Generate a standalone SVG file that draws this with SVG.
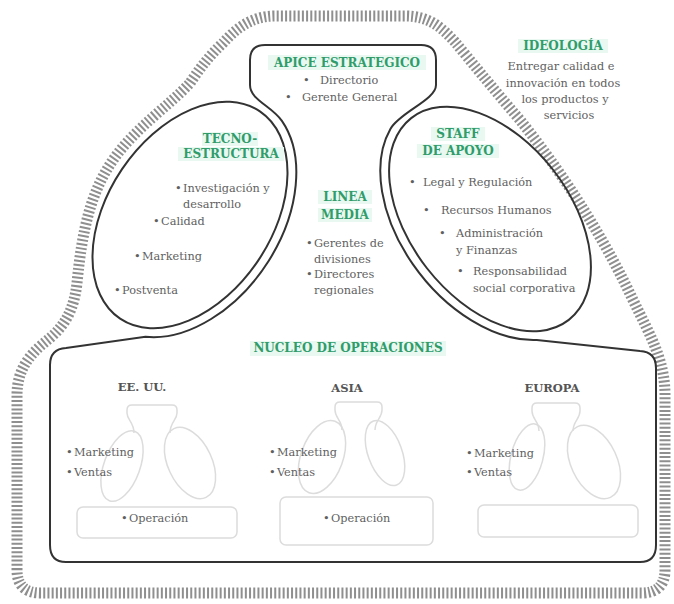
<svg xmlns="http://www.w3.org/2000/svg" width="674" height="604" viewBox="0 0 674 604">
  <style>
    .band { fill: none; stroke: #8f8f8f; stroke-width: 11; stroke-dasharray: 2 2.2; }
    .outline { fill: none; stroke: #333; stroke-width: 2; }
    .mini { fill: none; stroke: #dcdcdc; stroke-width: 1.5; }
    .hl { fill: #e9f8f1; }
    .head { font-family: 'DejaVu Serif', 'Liberation Serif', serif; font-weight: bold; font-size: 12px; fill: #2f9c6a; text-anchor: middle; }
    .region { font-family: 'DejaVu Serif', 'Liberation Serif', serif; font-weight: bold; font-size: 11.5px; fill: #555; text-anchor: middle; }
    .body { font-family: 'DejaVu Serif', 'Liberation Serif', serif; font-size: 11.3px; fill: #5f5f5f; }
    .mid { text-anchor: middle; }
  </style>

  <!-- ideology: hatched band enclosing the whole organisation -->
  <path id="ideologia-band" class="band" d="M 17,570 L 17,395 C 17,365 35,350 50,338 C 65,325 74,310 77,283 C 82,232 90,193 113,160 C 135,128 170,105 190,83 C 200,68 210,55 223,43 C 235,30 250,16 275,16 L 405,16 C 430,16 442,28 455,42 C 470,60 490,85 520,120 C 560,170 600,230 633,300 C 650,335 665,360 665,395 L 665,570 C 665,585 657,593 642,593 L 40,593 C 25,593 17,585 17,570 Z"/>

  <!-- organisation outline: apex, middle line, operating core -->
  <g id="connectors">
    <path class="outline" d="M 50,365 Q 50,349 66,348 L 145.4,336.8 A 134 91 -56 0 0 281.9,120.9 C 272,106 250,100 250,85 L 250,60 Q 250,45 265,45 L 421,45 Q 436,45 436,60 L 436,85 C 436,100 400,112 390.4,128.9 A 137 89 52 0 0 536.8,340 L 640,351 Q 656,352 656,368 L 656,545 Q 656,562 640,562 L 66,562 Q 50,562 50,545 Z"/>
  </g>

  <g id="ideologia">
    <rect class="hl" x="518" y="39" width="90" height="14"/>
    <text class="head" x="563" y="50">IDEOLOGÍA</text>
    <text class="body mid" x="561" y="70">Entregar calidad e</text>
    <text class="body mid" x="563" y="87">innovación en todos</text>
    <text class="body mid" x="565" y="103">los productos y</text>
    <text class="body mid" x="569" y="119">servicios</text>
  </g>

  <g id="apice-estrategico">
    <rect class="hl" x="268" y="55" width="158" height="15"/>
    <text class="head" x="347" y="67">APICE ESTRATEGICO</text>
    <text class="body" y="84"><tspan x="303">•</tspan><tspan x="320">Directorio</tspan></text>
    <text class="body" y="101"><tspan x="285">•</tspan><tspan x="302">Gerente General</tspan></text>
  </g>

  <g id="tecnoestructura">
    <ellipse class="outline" cx="190" cy="215" rx="125" ry="82" transform="rotate(-56 190 215)"/>
    <rect class="hl" x="202" y="132" width="56" height="14"/>
    <rect class="hl" x="178" y="147" width="106" height="14"/>
    <text class="head" x="230" y="143">TECNO-</text>
    <text class="head" x="231" y="158">ESTRUCTURA</text>
    <text class="body" y="192"><tspan x="175">•</tspan><tspan x="183">Investigación y</tspan></text>
    <text class="body" x="183" y="208">desarrollo</text>
    <text class="body" y="225"><tspan x="153">•</tspan><tspan x="161">Calidad</tspan></text>
    <text class="body" y="260"><tspan x="134">•</tspan><tspan x="142">Marketing</tspan></text>
    <text class="body" y="294"><tspan x="114">•</tspan><tspan x="122">Postventa</tspan></text>
  </g>

  <g id="linea-media">
    <rect class="hl" x="318" y="190" width="54" height="14"/>
    <rect class="hl" x="318" y="208" width="54" height="14"/>
    <text class="head" x="345" y="201">LINEA</text>
    <text class="head" x="345" y="219">MEDIA</text>
    <text class="body" y="247"><tspan x="306">•</tspan><tspan x="314">Gerentes de</tspan></text>
    <text class="body" x="314" y="263">divisiones</text>
    <text class="body" y="278"><tspan x="306">•</tspan><tspan x="314">Directores</tspan></text>
    <text class="body" x="314" y="294">regionales</text>
  </g>

  <g id="staff-de-apoyo">
    <ellipse class="outline" cx="490" cy="219" rx="128" ry="80" transform="rotate(52 490 219)"/>
    <rect class="hl" x="431" y="127" width="54" height="14"/>
    <rect class="hl" x="417" y="144" width="82" height="14"/>
    <text class="head" x="458" y="138">STAFF</text>
    <text class="head" x="458" y="155">DE APOYO</text>
    <text class="body" y="186"><tspan x="409">•</tspan><tspan x="423">Legal y Regulación</tspan></text>
    <text class="body" y="214"><tspan x="423">•</tspan><tspan x="441">Recursos Humanos</tspan></text>
    <text class="body" y="237"><tspan x="439">•</tspan><tspan x="456">Administración</tspan></text>
    <text class="body" x="456" y="254">y Finanzas</text>
    <text class="body" y="275"><tspan x="457">•</tspan><tspan x="473">Responsabilidad</tspan></text>
    <text class="body" x="473" y="292">social corporativa</text>
  </g>

  <g id="nucleo-de-operaciones">
    <rect class="hl" x="250" y="341" width="196" height="15"/>
    <text class="head" x="348" y="352">NUCLEO DE OPERACIONES</text>
  </g>

  <!-- regional units, each a faint copy of the structure -->
  <g id="ee-uu">
    <text class="region" x="142" y="391">EE. UU.</text>
    <path class="mini" d="M 134,433 C 134,422 127,420 127,413 L 127,410 Q 127,405 132,405 L 172,405 Q 177,405 177,410 L 177,413 C 177,420 170,422 170,433"/>
    <ellipse class="mini" cx="122" cy="466" rx="18" ry="37" transform="rotate(20 122 466)"/>
    <ellipse class="mini" cx="190" cy="463" rx="22" ry="38" transform="rotate(-25 190 463)"/>
    <rect class="mini" x="77" y="507" width="160" height="31" rx="6"/>
    <text class="body" y="456"><tspan x="66">•</tspan><tspan x="74">Marketing</tspan></text>
    <text class="body" y="476"><tspan x="66">•</tspan><tspan x="74">Ventas</tspan></text>
    <text class="body" y="522"><tspan x="121">•</tspan><tspan x="129">Operación</tspan></text>
  </g>

  <g id="asia">
    <text class="region" x="347" y="392">ASIA</text>
    <path class="mini" d="M 342,430 C 342,420 335,418 335,410 L 335,407 Q 335,402 340,402 L 377,402 Q 382,402 382,407 L 382,410 C 382,418 375,420 375,430"/>
    <ellipse class="mini" cx="322" cy="457" rx="21" ry="38" transform="rotate(20 322 457)"/>
    <ellipse class="mini" cx="385" cy="453" rx="17" ry="34" transform="rotate(-20 385 453)"/>
    <rect class="mini" x="280" y="497" width="153" height="48" rx="6"/>
    <text class="body" y="456"><tspan x="269">•</tspan><tspan x="277">Marketing</tspan></text>
    <text class="body" y="476"><tspan x="269">•</tspan><tspan x="277">Ventas</tspan></text>
    <text class="body" y="522"><tspan x="323">•</tspan><tspan x="331">Operación</tspan></text>
  </g>

  <g id="europa">
    <text class="region" x="552" y="392">EUROPA</text>
    <path class="mini" d="M 539,431 C 539,421 532,419 532,411 L 532,408 Q 532,403 537,403 L 575,403 Q 580,403 580,408 L 580,411 C 580,419 573,421 573,431"/>
    <ellipse class="mini" cx="527" cy="457" rx="16" ry="34" transform="rotate(15 527 457)"/>
    <ellipse class="mini" cx="594" cy="462" rx="23" ry="39" transform="rotate(-25 594 462)"/>
    <rect class="mini" x="478" y="505" width="160" height="32" rx="6"/>
    <text class="body" y="457"><tspan x="466">•</tspan><tspan x="474">Marketing</tspan></text>
    <text class="body" y="476"><tspan x="466">•</tspan><tspan x="474">Ventas</tspan></text>
  </g>
</svg>
